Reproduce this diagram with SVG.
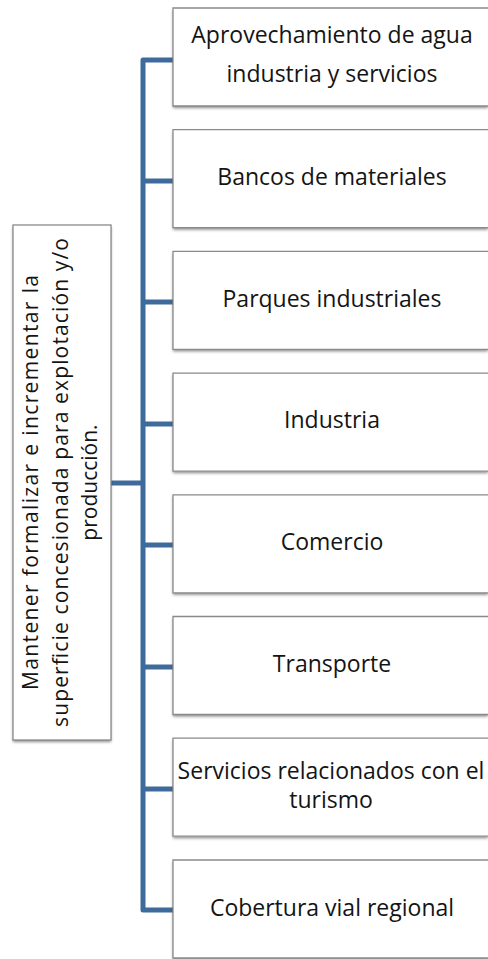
<svg xmlns="http://www.w3.org/2000/svg" width="488" height="959" viewBox="0 0 488 959">
  <defs>
    <filter id="sh" x="-10%" y="-10%" width="120%" height="130%">
      <feDropShadow dx="0" dy="2" stdDeviation="1.5" flood-color="#000" flood-opacity="0.45"/>
    </filter>
  </defs>
  <style>
    .bg { fill: #ffffff; filter: url(#sh); }
    .bd { fill: none; stroke: #8a8a8a; stroke-width: 1.3; }
    .lbl { font-family: "Open Sans", "Liberation Sans", sans-serif; font-size: 23px; fill: #141414; text-anchor: middle; }
    .root { font-family: "Open Sans", "Liberation Sans", sans-serif; font-size: 21px; fill: #141414; text-anchor: middle; }
    .conn { fill: none; stroke: #3f6a9c; stroke-width: 5; stroke-linejoin: round; }
  </style>
  <rect width="488" height="959" fill="#ffffff"/>

  <g id="connectors">
    <path class="conn" d="M 173 60 H 143 V 910 H 173"/>
    <path class="conn" d="M 143 181 H 173"/>
    <path class="conn" d="M 143 302 H 173"/>
    <path class="conn" d="M 143 424 H 173"/>
    <path class="conn" d="M 143 545 H 173"/>
    <path class="conn" d="M 143 667 H 173"/>
    <path class="conn" d="M 143 789 H 173"/>
    <path class="conn" d="M 111 483 H 143"/>
  </g>

  <g id="root">
    <rect class="bg" x="13" y="225" width="98" height="515"/>
    <rect class="bd" x="13" y="225" width="98" height="515"/>
    <g transform="rotate(-90)">
      <text class="root" x="-482.5" y="38" textLength="415" lengthAdjust="spacing">Mantener formalizar e incrementar la</text>
      <text class="root" x="-482.5" y="68" textLength="489" lengthAdjust="spacing">superficie concesionada para explotación y/o</text>
      <text class="root" x="-482.5" y="97">producción.</text>
    </g>
  </g>

  <g id="n1">
    <rect class="bg" x="173" y="8" width="315" height="98"/>
    <path class="bd" d="M 488 8 H 173 V 106 H 488"/>
    <text class="lbl" x="332" y="43">Aprovechamiento de agua</text>
    <text class="lbl" x="332" y="82">industria y servicios</text>
  </g>
  <g id="n2">
    <rect class="bg" x="173" y="129.7" width="315" height="98"/>
    <path class="bd" d="M 488 129.7 H 173 V 227.7 H 488"/>
    <text class="lbl" x="332" y="185">Bancos de materiales</text>
  </g>
  <g id="n3">
    <rect class="bg" x="173" y="251.4" width="315" height="98"/>
    <path class="bd" d="M 488 251.4 H 173 V 349.4 H 488"/>
    <text class="lbl" x="332" y="307">Parques industriales</text>
  </g>
  <g id="n4">
    <rect class="bg" x="173" y="373.1" width="315" height="98"/>
    <path class="bd" d="M 488 373.1 H 173 V 471.1 H 488"/>
    <text class="lbl" x="332" y="428">Industria</text>
  </g>
  <g id="n5">
    <rect class="bg" x="173" y="494.8" width="315" height="98"/>
    <path class="bd" d="M 488 494.8 H 173 V 592.8 H 488"/>
    <text class="lbl" x="332" y="550">Comercio</text>
  </g>
  <g id="n6">
    <rect class="bg" x="173" y="616.5" width="315" height="98"/>
    <path class="bd" d="M 488 616.5 H 173 V 714.5 H 488"/>
    <text class="lbl" x="332" y="672">Transporte</text>
  </g>
  <g id="n7">
    <rect class="bg" x="173" y="738.2" width="315" height="98"/>
    <path class="bd" d="M 488 738.2 H 173 V 836.2 H 488"/>
    <text class="lbl" x="331" y="779">Servicios relacionados con el</text>
    <text class="lbl" x="331" y="808">turismo</text>
  </g>
  <g id="n8">
    <rect class="bg" x="173" y="860" width="315" height="98"/>
    <path class="bd" d="M 488 860 H 173 V 958 H 488"/>
    <text class="lbl" x="332" y="916">Cobertura vial regional</text>
  </g>
</svg>
